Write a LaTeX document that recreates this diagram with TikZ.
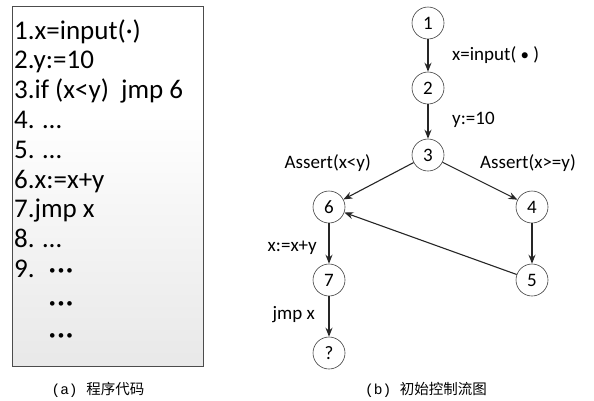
\documentclass[tikz,border=0pt]{standalone}
\usepackage{fontspec}
\setmainfont{Carlito}
\newfontfamily\cjk{Noto Sans CJK SC}
\newfontfamily\capmono{Liberation Mono}
\usetikzlibrary{arrows.meta}
% white in the upper half, light grey towards the bottom
\pgfdeclareverticalshading{panelshade}{100bp}{color(0bp)=(black!15); color(45bp)=(black!4); color(60bp)=(white); color(100bp)=(white)}
\tikzset{
  codeline/.style={anchor=base west, inner sep=0pt, font=\fontsize{27}{27}\selectfont},
  dotline/.style={anchor=west, inner sep=0pt, font=\fontsize{13}{13}\selectfont},
  state/.style={circle, draw=black!75, line width=0.6pt, minimum size=32pt, inner sep=0pt,
    font=\fontsize{19}{19}\selectfont},
  flow/.style={-{Stealth[length=9pt,width=7pt]}, line width=1.1pt, black!85},
  elabel/.style={inner sep=0pt, font=\fontsize{19}{19}\selectfont},
  caption/.style={inner sep=0pt, font=\fontsize{14.5}{14.5}\selectfont}
}
\begin{document}
\begin{tikzpicture}[x=1pt,y=-1pt]
\useasboundingbox[fill=white] (0,0) rectangle (594,400);

% program listing panel
\shade[shading=panelshade] (12,6) rectangle (203,366);
\draw[black!70, line width=0.7pt] (12,6) rectangle (203,366);

\node[codeline] (c1) at (14,39) {1.x=input(·)};
\node[codeline] (c2) at (14,68.8) {2.y:=10};
\node[codeline] (c3) at (14,98.6) {3.if (x<y)\ \ jmp 6};
\node[codeline] (c4) at (14,128.4) {4. …};
\node[codeline] (c5) at (14,158.2) {5. …};
\node[codeline] (c6) at (14,188) {6.x:=x+y};
\node[codeline] (c7) at (14,217.8) {7.jmp x};
\node[codeline] (c8) at (14,247.6) {8. …};
\node[codeline] (c9) at (14,277.4) {9.};
\node[dotline] (d9) at (49,272) {•\,•\,•};
\node[dotline] (d10) at (49,305) {•\,•\,•};
\node[dotline] (d11) at (49,337) {•\,•\,•};

\node[caption] (capa) at (98,390) {\capmono(a)\ \cjk 程序代码};

% control flow graph
\node[state] (n1) at (428,23) {1};
\node[state] (n2) at (428,88) {2};
\node[state] (n3) at (428,155) {3};
\node[state] (n6) at (329,207) {6};
\node[state] (n4) at (532,207) {4};
\node[state] (n7) at (329,280) {7};
\node[state] (n5) at (532,280) {5};
\node[state] (nq) at (329,353) {?};

\draw[flow] (n1) -- (n2);
\draw[flow] (n2) -- (n3);
\draw[flow] (n3) -- (n6);
\draw[flow] (n3) -- (n4);
\draw[flow] (n4) -- (n5);
\draw[flow] (n5) -- (n6);
\draw[flow] (n6) -- (n7);
\draw[flow] (n7) -- (nq);

\node[elabel, anchor=west] (l12) at (452,55) {x=input( {\fontsize{17}{17}\selectfont •} )};
\node[elabel, anchor=west] (l23) at (452,120) {y:=10};
\node[elabel, anchor=east] (l36) at (371,163) {Assert(x<y)};
\node[elabel, anchor=west] (l34) at (480,163) {Assert(x>=y)};
\node[elabel, anchor=east] (l67) at (317,248) {x:=x+y};
\node[elabel, anchor=east] (l7q) at (315,315) {jmp x};

\node[caption] (capb) at (426,390) {\capmono(b)\ \cjk 初始控制流图};
\end{tikzpicture}
\end{document}
